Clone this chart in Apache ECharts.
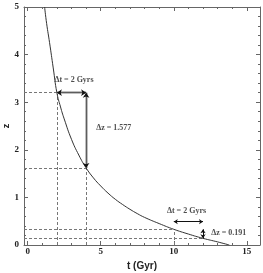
<!DOCTYPE html>
<html><head><meta charset="utf-8">
<script src="https://cdn.jsdelivr.net/npm/echarts@6/dist/echarts.min.js"></script>
<style>html,body{margin:0;padding:0;background:#fff}#c{width:263px;height:273px}</style>
</head><body><div id="c"></div>
<script>
// Curve: redshift z versus cosmic time t (Gyr)
var curveT = [1.16, 1.3, 1.5, 1.75, 2.0, 2.25, 2.5, 3.0, 3.5, 4.0, 4.5, 5.0, 5.5, 6.0, 6.5, 7.0, 7.5, 8.0, 9.0, 10.0, 11.0, 12.0, 13.0, 13.8];
var curveZ = [5.0, 4.65, 4.25, 3.72, 3.2, 2.9, 2.65, 2.22, 1.89, 1.62, 1.41, 1.24, 1.09, 0.96, 0.85, 0.75, 0.66, 0.58, 0.45, 0.33, 0.23, 0.14, 0.065, 0.0];
// Guide points (dashed lines)
var guideT = [2, 4, 10, 12];
var guideZ = [3.2, 1.62, 0.33, 0.14];
var guideVertical = [true, true, true, false];
// Annotations
var bigArrowH = [[2, 3.2], [4, 3.2]];
var bigArrowV = [[4, 3.2], [4, 1.62]];
var smallArrowH = [[10, 0.49], [12, 0.49]];
var smallArrowV = [[12, 0.33], [12, 0.14]];
var labelText = ['Δt = 2 Gyrs', 'Δz = 1.577', 'Δt = 2 Gyrs', 'Δz = 0.191'];
var labelT = [3.17, 5.89, 10.87, 13.76];
var labelZ = [3.47, 2.45, 0.71, 0.245];
var xTicks = ['0', '5', '10', '15'];
var xMin = -0.25, xMax = 15.9, yMin = 0, yMax = 5;

var chart = echarts.init(document.getElementById('c'), null, {renderer: 'canvas'});
var frameColor = '#666';
var tickFont = {fontFamily: 'Liberation Serif', fontWeight: 'bold', fontSize: 9, color: '#222'};
function xAxisCfg(pos, labels) {
  return {
    type: 'value', position: pos, min: xMin, max: xMax, splitNumber: 3,
    axisLine: {show: true, onZero: false, lineStyle: {color: frameColor, width: 1}},
    axisTick: {show: true, inside: true, length: 4, lineStyle: {color: frameColor}},
    minorTick: {show: true, splitNumber: 5, length: 2, lineStyle: {color: frameColor}},
    splitLine: {show: false},
    axisLabel: Object.assign({show: labels, margin: 2, showMinLabel: false, showMaxLabel: false,
      formatter: function (v) { return xTicks.indexOf(String(v)) >= 0 ? String(v) : ''; }}, tickFont),
    name: labels ? 't (Gyr)' : '', nameLocation: 'middle', nameGap: 15,
    nameTextStyle: {fontFamily: 'Liberation Sans', fontWeight: 'bold', fontSize: 10, color: '#222'}
  };
}
function yAxisCfg(pos, labels) {
  return {
    type: 'value', position: pos, min: yMin, max: yMax, interval: 1,
    axisLine: {show: true, onZero: false, lineStyle: {color: frameColor, width: 1}},
    axisTick: {show: true, inside: true, length: 4, lineStyle: {color: frameColor}},
    minorTick: {show: true, splitNumber: 5, length: 2, lineStyle: {color: frameColor}},
    splitLine: {show: false},
    axisLabel: Object.assign({show: labels, margin: 5}, tickFont)
  };
}

var curveData = curveT.map(function (t, i) { return [t, curveZ[i]]; });
var guideData = [];
guideT.forEach(function (t, i) {
  guideData.push({coords: [[xMin, guideZ[i]], [t, guideZ[i]]]});
  if (guideVertical[i]) guideData.push({coords: [[t, 0], [t, guideZ[i]]]});
});
var labelData = labelText.map(function (s, i) { return {name: s, value: [labelT[i], labelZ[i]]}; });

chart.setOption({
  animation: false,
  backgroundColor: '#fff',
  grid: {left: 24, right: 3, top: 7, bottom: 28, containLabel: false, outerBoundsMode: 'none'},
  graphic: [{
    type: 'text', x: 7, y: 126, rotation: Math.PI / 2,
    style: {text: 'z', fill: '#222', font: 'bold 9px "Liberation Sans"', align: 'center', verticalAlign: 'middle'}
  }],
  xAxis: [xAxisCfg('bottom', true), xAxisCfg('top', false)],
  yAxis: [yAxisCfg('left', true), yAxisCfg('right', false)],
  series: [
    {type: 'lines', coordinateSystem: 'cartesian2d', z: 2, silent: true,
     lineStyle: {color: '#777', width: 1, type: [3, 2], opacity: 1}, symbol: 'none', data: guideData},
    {type: 'line', data: curveData, smooth: true, symbol: 'none', z: 3,
     lineStyle: {color: '#333', width: 1}},
    {type: 'lines', coordinateSystem: 'cartesian2d', z: 4, silent: true,
     lineStyle: {color: '#aaa', width: 2.5, opacity: 1}, symbol: 'none',
     data: [{coords: bigArrowH}, {coords: bigArrowV}]},
    {type: 'lines', coordinateSystem: 'cartesian2d', z: 5, silent: true,
     lineStyle: {color: '#111', width: 0.5, opacity: 1}, symbol: ['arrow', 'arrow'], symbolSize: 5,
     data: [{coords: bigArrowH}, {coords: bigArrowV}]},
    {type: 'lines', coordinateSystem: 'cartesian2d', z: 5, silent: true,
     lineStyle: {color: '#111', width: 1, opacity: 1}, symbol: ['arrow', 'arrow'], symbolSize: 4,
     data: [{coords: smallArrowH}, {coords: smallArrowV}]},
    {type: 'scatter', data: labelData, symbolSize: 0, z: 6, silent: true,
     label: {show: true, position: 'inside', formatter: '{b}', fontFamily: 'Liberation Serif',
       fontWeight: 'bold', fontSize: 8, color: '#222'}}
  ]
});
</script></body></html>
